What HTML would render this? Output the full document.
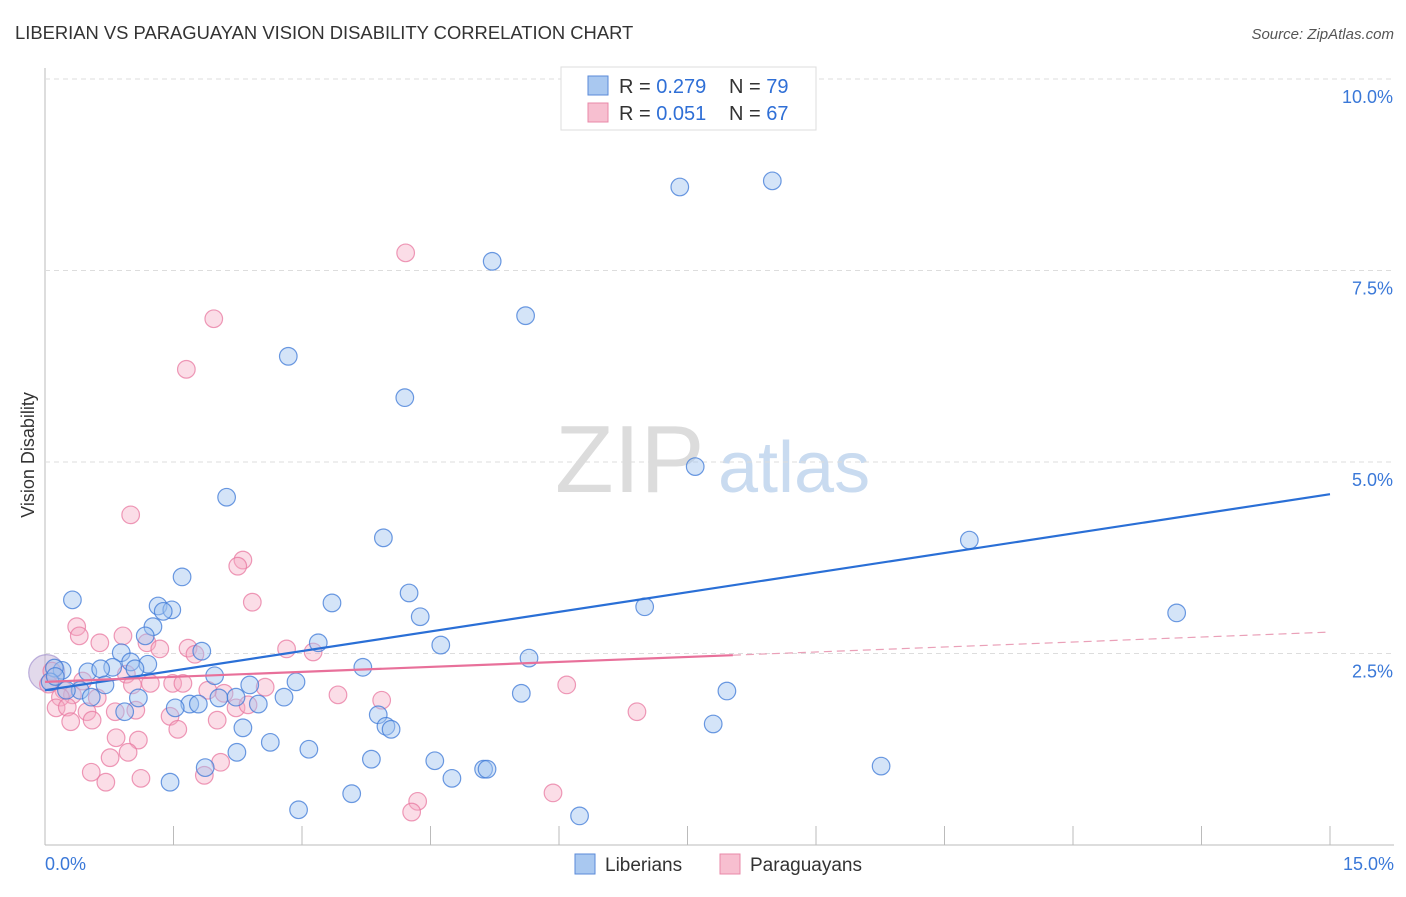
<!DOCTYPE html>
<html><head><meta charset="utf-8"><style>
body{margin:0;background:#fff;font-family:"Liberation Sans",sans-serif}
svg text{font-family:"Liberation Sans",sans-serif}
</style></head><body>
<svg id="chart" width="1406" height="892">
<text x="15" y="39" font-size="18.4" fill="#333">LIBERIAN VS PARAGUAYAN VISION DISABILITY CORRELATION CHART</text>
<text x="1394" y="39" font-size="15" fill="#555" font-style="italic" text-anchor="end">Source: ZipAtlas.com</text>
<text x="555" y="492" font-size="96" fill="#dcdcdc" font-family="Liberation Serif">ZIP</text>
<text x="718" y="492" font-size="72" fill="#c9dbf0">atlas</text>
<text transform="translate(34,455) rotate(-90)" font-size="18" fill="#333" text-anchor="middle">Vision Disability</text>
<g id="grid"></g><g id="pts"></g><g id="lines"></g>
<g>
<rect x="561" y="67" width="255" height="63" fill="#fff" stroke="#ddd"/>
<rect x="588" y="76" width="20" height="19" fill="#a9c8f0" stroke="#5a8ad8"/>
<rect x="588" y="103" width="20" height="19" fill="#f7bfd0" stroke="#e889a8"/>
<text x="619" y="93" font-size="20" fill="#333">R = <tspan fill="#2f6fd6">0.279</tspan></text>
<text x="729" y="93" font-size="20" fill="#333">N = <tspan fill="#2f6fd6">79</tspan></text>
<text x="619" y="120" font-size="20" fill="#333">R = <tspan fill="#2f6fd6">0.051</tspan></text>
<text x="729" y="120" font-size="20" fill="#333">N = <tspan fill="#2f6fd6">67</tspan></text>
</g>
<rect x="575" y="854" width="20" height="20" fill="#a9c8f0" stroke="#5a8ad8"/>
<text x="605" y="871" font-size="19" fill="#333">Liberians</text>
<rect x="720" y="854" width="20" height="20" fill="#f7bfd0" stroke="#e889a8"/>
<text x="750" y="871" font-size="19" fill="#333">Paraguayans</text>
</svg>
<script>
const blueX=[7.41,8.49,5.22,5.61,2.84,4.20,7.59,2.12,3.95,10.79,1.60,0.32,4.25,3.35,1.32,1.48,1.38,7.00,4.38,13.21,1.26,1.17,3.19,4.62,1.83,0.89,5.65,1.20,1.00,0.79,0.50,0.65,0.20,0.11,3.71,1.05,1.98,2.93,2.39,0.70,0.41,0.25,7.96,5.56,1.09,2.79,0.54,1.69,1.79,2.03,2.23,2.49,1.52,0.93,3.89,3.98,4.04,7.80,2.31,2.63,2.24,3.08,3.81,4.55,1.87,5.12,5.16,9.76,4.75,1.46,3.58,2.96,6.24,0.06,0.12];
const blueY=[8.59,8.67,7.62,6.91,6.38,5.84,4.94,4.54,4.01,3.98,3.50,3.20,3.29,3.16,3.12,3.07,3.05,3.11,2.98,3.03,2.85,2.73,2.64,2.61,2.53,2.51,2.44,2.36,2.39,2.32,2.26,2.30,2.28,2.31,2.32,2.30,2.21,2.13,2.09,2.09,2.02,2.02,2.01,1.98,1.92,1.93,1.93,1.84,1.84,1.92,1.93,1.84,1.79,1.74,1.70,1.55,1.51,1.58,1.53,1.34,1.21,1.25,1.12,1.10,1.01,0.99,0.99,1.03,0.87,0.82,0.67,0.46,0.38,2.13,2.20];
const pinkX=[4.21,1.97,1.65,1.00,2.31,2.25,2.42,0.37,0.40,0.91,0.64,1.19,1.67,1.34,2.82,3.13,1.75,0.95,1.23,1.49,1.61,2.57,6.09,0.44,0.22,1.02,1.90,2.09,3.42,3.93,0.61,0.32,0.18,0.13,0.26,2.23,2.37,1.06,0.82,6.91,0.49,1.46,2.01,0.55,0.30,1.55,0.83,1.09,0.97,0.76,2.05,0.54,1.86,1.12,0.71,5.93,4.35,4.28,0.08,0.04];
const pinkY=[7.73,6.87,6.21,4.31,3.72,3.64,3.17,2.85,2.73,2.73,2.64,2.64,2.57,2.56,2.56,2.52,2.49,2.23,2.11,2.11,2.11,2.06,2.09,2.14,2.02,2.09,2.02,1.98,1.96,1.89,1.92,1.96,1.93,1.79,1.80,1.79,1.83,1.76,1.74,1.74,1.74,1.68,1.63,1.63,1.61,1.51,1.40,1.37,1.21,1.14,1.08,0.95,0.91,0.87,0.82,0.68,0.57,0.43,2.27,2.10];
const yTicks=[2.5,5.0,7.5,10.0];
const xTickLabels=["0.0%","15.0%"];
const blueTrend=[2.02,4.58];
const pinkTrend=[2.13,2.78];
const pinkSolidEnd=8.03;
const NS="http://www.w3.org/2000/svg";
const X0=45,X1=1330,Y0=845,YS=76.6;
const sx=v=>X0+(X1-X0)*v/15, sy=v=>Y0-v*YS;
function mk(tag,attrs,parent){const e=document.createElementNS(NS,tag);for(const k in attrs)e.setAttribute(k,attrs[k]);parent.appendChild(e);return e;}
const grid=document.getElementById('grid'),pts=document.getElementById('pts'),lines=document.getElementById('lines');
let a=mk('line',{x1:X0,y1:68,x2:X0,y2:Y0,stroke:'#bbb'},grid);


a=mk('line',{x1:X0,y1:Y0,x2:1394,y2:Y0,stroke:'#bbb'},grid);


yTicks.forEach(v=>{
 const g=mk('line',{x1:X0,y1:sy(v),x2:1394,y2:sy(v),stroke:'#ddd','stroke-dasharray':'5,4'},grid);
 
 
 const t=mk('text',{x:1393,y:sy(v)+24,'font-size':18,fill:'#3a78d8','text-anchor':'end'},grid);
 t.textContent=v.toFixed(1)+'%';
 
 
});
for(let i=0;i<=10;i++){
 const tk=mk('line',{x1:sx(i*1.5),y1:826,x2:sx(i*1.5),y2:Y0,stroke:'#bbb'},grid);
 
 
}
let t=mk('text',{x:45,y:870,'font-size':18,fill:'#3a78d8'},grid);t.textContent=xTickLabels[0];


t=mk('text',{x:1394,y:870,'font-size':18,fill:'#3a78d8','text-anchor':'end'},grid);t.textContent=xTickLabels[1];


const big=mk('circle',{cx:sx(0.02),cy:sy(2.25),r:18,fill:'rgba(190,170,210,0.45)',stroke:'rgba(150,130,200,0.6)','stroke-width':1.2},pts);


pinkX.forEach((x,i)=>{
 const c=mk('circle',{cx:sx(x),cy:sy(pinkY[i]),r:8.8,fill:'rgba(245,170,195,0.4)',stroke:'rgba(232,120,160,0.75)','stroke-width':1.2},pts);
 
 
});
blueX.forEach((x,i)=>{
 const c=mk('circle',{cx:sx(x),cy:sy(blueY[i]),r:8.8,fill:'rgba(160,195,240,0.45)',stroke:'rgba(60,120,215,0.75)','stroke-width':1.2},pts);
 
 
});
let l=mk('line',{x1:sx(0),y1:sy(blueTrend[0]),x2:sx(15),y2:sy(blueTrend[1]),stroke:'#2a6fd6','stroke-width':2.2},lines);


const pAt=v=>pinkTrend[0]+(pinkTrend[1]-pinkTrend[0])*v/15;
l=mk('line',{x1:sx(0),y1:sy(pinkTrend[0]),x2:sx(pinkSolidEnd),y2:sy(pAt(pinkSolidEnd)),stroke:'#e8709a','stroke-width':2.2},lines);


l=mk('line',{x1:sx(pinkSolidEnd),y1:sy(pAt(pinkSolidEnd)),x2:sx(15),y2:sy(pinkTrend[1]),stroke:'#eaa0b8','stroke-width':1.2,'stroke-dasharray':'8,5'},lines);


</script>
</body></html>
